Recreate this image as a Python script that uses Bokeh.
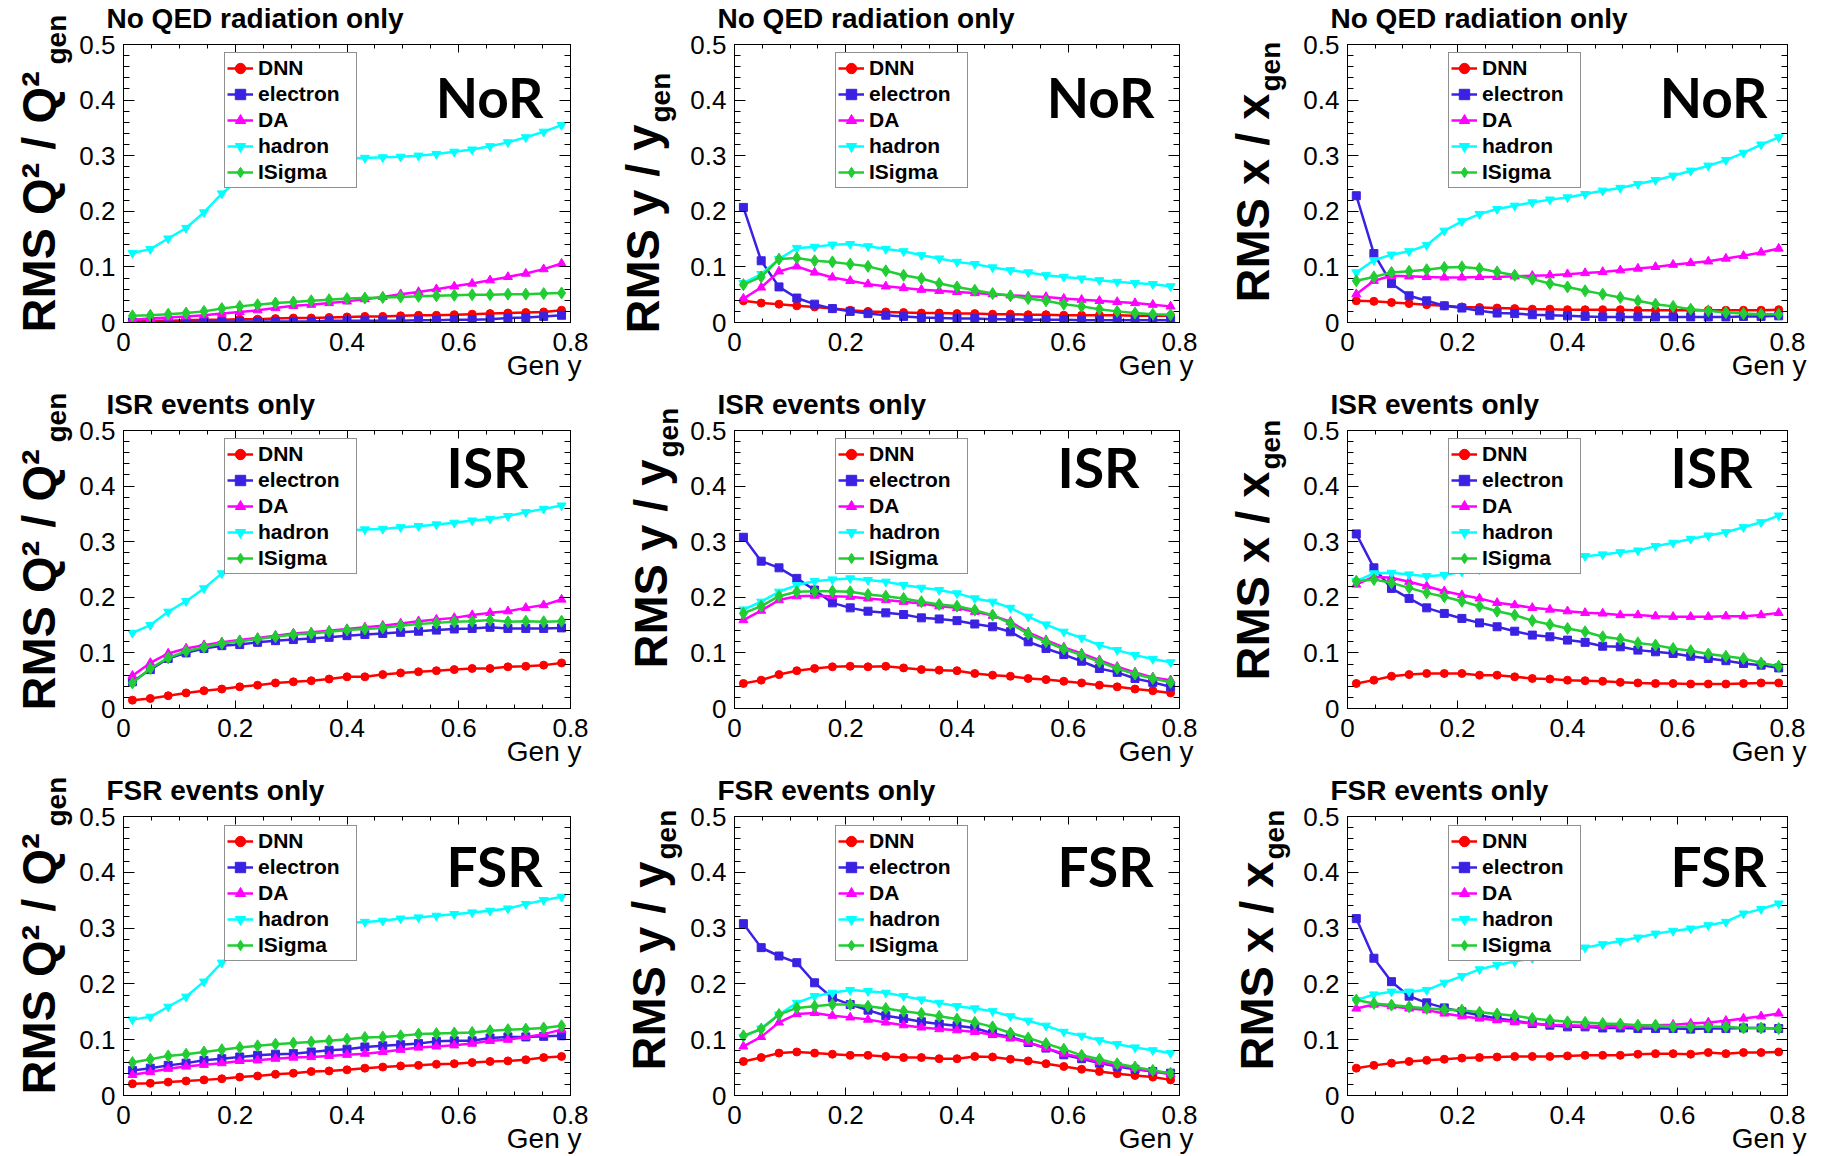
from bokeh.plotting import figure
from bokeh.models import (Range1d, FixedTicker, LinearAxis, Label, Legend, LegendItem,
                          GridBox, CustomLabelingPolicy)
from bokeh.embed import file_html
from bokeh.resources import INLINE

# ---------------- data ----------------
GEN_Y = [0.016, 0.048, 0.080, 0.112, 0.144, 0.176, 0.208, 0.240, 0.272, 0.304,
         0.336, 0.368, 0.400, 0.432, 0.464, 0.496, 0.528, 0.560, 0.592, 0.624,
         0.656, 0.688, 0.720, 0.752, 0.784]

SERIES = ["DNN", "electron", "DA", "hadron", "ISigma"]

# Q^2 resolution, no QED radiation
Q2_NOR_DNN = [0.002,0.003,0.003,0.004,0.005,0.005,0.006,0.006,0.007,0.008,0.008,0.009,0.010,0.011,0.011,0.012,0.013,0.013,0.014,0.015,0.016,0.017,0.018,0.019,0.022]
Q2_NOR_EL = [0.001,0.001,0.001,0.001,0.002,0.002,0.002,0.002,0.002,0.002,0.002,0.003,0.003,0.003,0.003,0.003,0.004,0.004,0.005,0.005,0.006,0.008,0.009,0.011,0.013]
Q2_NOR_DA = [0.005,0.007,0.009,0.011,0.013,0.016,0.019,0.022,0.026,0.030,0.032,0.035,0.038,0.042,0.046,0.051,0.055,0.060,0.065,0.070,0.076,0.082,0.088,0.096,0.106]
Q2_NOR_HAD = [0.125,0.132,0.151,0.170,0.198,0.232,0.258,0.274,0.284,0.289,0.292,0.294,0.295,0.296,0.297,0.298,0.300,0.303,0.307,0.311,0.317,0.324,0.333,0.343,0.355]
Q2_NOR_ISG = [0.012,0.013,0.015,0.017,0.020,0.025,0.029,0.032,0.035,0.037,0.039,0.041,0.043,0.044,0.045,0.046,0.047,0.048,0.049,0.050,0.050,0.051,0.051,0.052,0.053]

# y resolution, no QED radiation
Y_NOR_DNN = [0.039,0.035,0.033,0.030,0.028,0.025,0.022,0.020,0.019,0.018,0.017,0.017,0.016,0.016,0.015,0.015,0.014,0.014,0.013,0.013,0.013,0.013,0.012,0.012,0.012]
Y_NOR_EL = [0.207,0.111,0.064,0.044,0.033,0.025,0.020,0.016,0.013,0.011,0.009,0.008,0.007,0.007,0.006,0.006,0.005,0.005,0.005,0.004,0.004,0.004,0.004,0.004,0.004]
Y_NOR_DA = [0.043,0.063,0.092,0.101,0.090,0.081,0.075,0.069,0.065,0.062,0.059,0.057,0.055,0.053,0.051,0.049,0.047,0.046,0.043,0.041,0.039,0.037,0.035,0.032,0.029]
Y_NOR_HAD = [0.071,0.087,0.114,0.134,0.136,0.140,0.141,0.137,0.132,0.128,0.121,0.115,0.109,0.105,0.099,0.094,0.090,0.085,0.082,0.079,0.076,0.073,0.071,0.069,0.065]
Y_NOR_ISG = [0.068,0.082,0.114,0.116,0.111,0.109,0.105,0.101,0.093,0.085,0.079,0.070,0.064,0.058,0.052,0.048,0.043,0.039,0.033,0.029,0.024,0.020,0.017,0.015,0.014]

# x resolution, no QED radiation
X_NOR_DNN = [0.039,0.038,0.036,0.034,0.032,0.030,0.028,0.027,0.026,0.025,0.024,0.024,0.023,0.023,0.023,0.023,0.022,0.022,0.022,0.022,0.022,0.022,0.022,0.022,0.023]
X_NOR_EL = [0.228,0.124,0.070,0.048,0.039,0.030,0.026,0.021,0.017,0.016,0.014,0.013,0.012,0.011,0.010,0.010,0.010,0.010,0.010,0.010,0.010,0.010,0.011,0.011,0.012]
X_NOR_DA = [0.051,0.075,0.084,0.083,0.082,0.081,0.081,0.082,0.082,0.083,0.084,0.085,0.087,0.089,0.091,0.094,0.097,0.100,0.104,0.107,0.110,0.115,0.120,0.126,0.133]
X_NOR_HAD = [0.090,0.112,0.122,0.128,0.139,0.165,0.182,0.195,0.204,0.210,0.216,0.221,0.225,0.231,0.237,0.242,0.249,0.256,0.264,0.273,0.282,0.292,0.305,0.320,0.333]
X_NOR_ISG = [0.075,0.082,0.090,0.092,0.095,0.099,0.100,0.097,0.091,0.085,0.078,0.070,0.064,0.057,0.051,0.045,0.039,0.033,0.029,0.024,0.021,0.018,0.016,0.015,0.015]

# Q^2 resolution, ISR events
Q2_ISR_DNN = [0.015,0.018,0.023,0.028,0.032,0.035,0.039,0.042,0.046,0.048,0.050,0.053,0.057,0.057,0.061,0.064,0.066,0.068,0.070,0.072,0.072,0.075,0.076,0.078,0.082]
Q2_ISR_EL = [0.048,0.070,0.090,0.100,0.108,0.113,0.115,0.119,0.122,0.124,0.126,0.128,0.131,0.133,0.135,0.137,0.139,0.141,0.143,0.144,0.146,0.144,0.144,0.144,0.145]
Q2_ISR_DA = [0.059,0.082,0.099,0.108,0.114,0.119,0.123,0.127,0.131,0.135,0.137,0.140,0.143,0.146,0.149,0.153,0.157,0.160,0.163,0.168,0.172,0.175,0.181,0.186,0.196]
Q2_ISR_HAD = [0.136,0.150,0.174,0.193,0.216,0.243,0.268,0.287,0.300,0.308,0.313,0.317,0.320,0.322,0.323,0.326,0.328,0.331,0.334,0.338,0.341,0.346,0.353,0.359,0.365]
Q2_ISR_ISG = [0.046,0.072,0.091,0.103,0.110,0.117,0.121,0.125,0.129,0.133,0.135,0.138,0.141,0.143,0.145,0.149,0.152,0.154,0.156,0.157,0.159,0.156,0.157,0.156,0.157]

# y resolution, ISR events
Y_ISR_DNN = [0.045,0.051,0.061,0.068,0.072,0.075,0.076,0.075,0.076,0.073,0.070,0.069,0.068,0.063,0.060,0.058,0.054,0.052,0.049,0.046,0.042,0.039,0.035,0.032,0.028]
Y_ISR_EL = [0.308,0.265,0.253,0.234,0.213,0.190,0.181,0.175,0.172,0.169,0.163,0.161,0.158,0.152,0.147,0.138,0.120,0.108,0.097,0.085,0.072,0.065,0.054,0.047,0.039]
Y_ISR_DA = [0.159,0.176,0.195,0.202,0.203,0.202,0.201,0.198,0.195,0.192,0.189,0.184,0.181,0.174,0.167,0.156,0.137,0.123,0.110,0.099,0.087,0.075,0.065,0.056,0.051]
Y_ISR_HAD = [0.178,0.192,0.210,0.222,0.229,0.232,0.234,0.231,0.228,0.222,0.217,0.213,0.207,0.198,0.192,0.181,0.165,0.151,0.138,0.127,0.114,0.105,0.096,0.089,0.083]
Y_ISR_ISG = [0.171,0.184,0.202,0.210,0.211,0.211,0.210,0.205,0.202,0.198,0.192,0.187,0.184,0.177,0.168,0.153,0.134,0.120,0.107,0.096,0.084,0.072,0.062,0.054,0.047]

# x resolution, ISR events
X_ISR_DNN = [0.045,0.051,0.058,0.061,0.063,0.063,0.063,0.060,0.060,0.057,0.054,0.053,0.051,0.050,0.049,0.047,0.046,0.045,0.045,0.044,0.044,0.044,0.045,0.046,0.046]
X_ISR_EL = [0.314,0.253,0.216,0.198,0.181,0.171,0.162,0.154,0.147,0.139,0.132,0.129,0.123,0.119,0.112,0.111,0.105,0.102,0.099,0.094,0.090,0.086,0.081,0.078,0.073]
X_ISR_DA = [0.223,0.237,0.235,0.228,0.220,0.211,0.204,0.198,0.190,0.186,0.181,0.178,0.175,0.172,0.171,0.168,0.168,0.166,0.165,0.165,0.165,0.166,0.166,0.168,0.172]
X_ISR_HAD = [0.229,0.243,0.244,0.241,0.238,0.240,0.246,0.250,0.255,0.259,0.263,0.266,0.269,0.274,0.277,0.281,0.284,0.292,0.298,0.305,0.311,0.317,0.326,0.335,0.347]
X_ISR_ISG = [0.229,0.232,0.226,0.217,0.208,0.201,0.193,0.184,0.175,0.168,0.158,0.151,0.144,0.138,0.129,0.125,0.118,0.114,0.108,0.104,0.098,0.094,0.090,0.082,0.076]

# Q^2 resolution, FSR events
Q2_FSR_DNN = [0.021,0.022,0.024,0.026,0.028,0.030,0.033,0.035,0.038,0.040,0.043,0.044,0.046,0.049,0.051,0.053,0.054,0.056,0.057,0.059,0.061,0.062,0.064,0.068,0.070]
Q2_FSR_EL = [0.045,0.049,0.054,0.058,0.063,0.066,0.069,0.072,0.074,0.075,0.078,0.081,0.083,0.087,0.089,0.091,0.093,0.097,0.098,0.098,0.103,0.105,0.105,0.106,0.107]
Q2_FSR_DA = [0.037,0.042,0.048,0.052,0.055,0.058,0.062,0.063,0.066,0.068,0.069,0.071,0.073,0.075,0.078,0.082,0.086,0.088,0.090,0.093,0.098,0.100,0.105,0.110,0.118]
Q2_FSR_HAD = [0.136,0.141,0.159,0.177,0.204,0.238,0.262,0.279,0.290,0.297,0.302,0.306,0.309,0.311,0.313,0.317,0.319,0.322,0.325,0.328,0.331,0.335,0.343,0.350,0.356]
Q2_FSR_ISG = [0.059,0.065,0.071,0.074,0.078,0.082,0.086,0.089,0.092,0.094,0.096,0.098,0.101,0.104,0.105,0.107,0.110,0.111,0.112,0.113,0.116,0.118,0.119,0.121,0.125]

# y resolution, FSR events
Y_FSR_DNN = [0.061,0.068,0.076,0.078,0.076,0.074,0.072,0.072,0.070,0.068,0.068,0.066,0.066,0.070,0.069,0.065,0.062,0.057,0.052,0.047,0.043,0.039,0.036,0.033,0.028]
Y_FSR_EL = [0.308,0.265,0.250,0.238,0.202,0.175,0.163,0.153,0.143,0.138,0.132,0.128,0.125,0.121,0.111,0.105,0.095,0.085,0.073,0.066,0.058,0.052,0.047,0.043,0.040]
Y_FSR_DA = [0.088,0.105,0.131,0.146,0.148,0.143,0.140,0.136,0.131,0.126,0.122,0.119,0.117,0.114,0.109,0.103,0.095,0.085,0.075,0.068,0.060,0.054,0.049,0.043,0.038]
Y_FSR_HAD = [0.105,0.120,0.145,0.166,0.178,0.184,0.189,0.187,0.184,0.178,0.172,0.166,0.160,0.156,0.151,0.142,0.134,0.125,0.114,0.107,0.099,0.092,0.086,0.081,0.076]
Y_FSR_ISG = [0.107,0.119,0.145,0.157,0.160,0.163,0.163,0.160,0.156,0.151,0.147,0.142,0.137,0.131,0.123,0.112,0.103,0.093,0.083,0.072,0.065,0.057,0.051,0.045,0.040]

# x resolution, FSR events
X_FSR_DNN = [0.049,0.054,0.058,0.061,0.063,0.065,0.067,0.068,0.069,0.070,0.070,0.070,0.071,0.072,0.072,0.072,0.074,0.075,0.075,0.074,0.077,0.075,0.077,0.077,0.078]
X_FSR_EL = [0.317,0.246,0.204,0.178,0.166,0.157,0.150,0.144,0.138,0.134,0.129,0.126,0.123,0.123,0.121,0.121,0.120,0.120,0.120,0.119,0.120,0.120,0.121,0.121,0.120]
X_FSR_DA = [0.156,0.163,0.160,0.156,0.153,0.147,0.142,0.138,0.135,0.132,0.129,0.127,0.126,0.125,0.124,0.124,0.124,0.126,0.127,0.129,0.131,0.134,0.138,0.142,0.147]
X_FSR_HAD = [0.171,0.181,0.186,0.186,0.189,0.202,0.214,0.226,0.234,0.240,0.246,0.251,0.257,0.265,0.271,0.277,0.283,0.290,0.295,0.299,0.305,0.311,0.326,0.334,0.344]
X_FSR_ISG = [0.171,0.165,0.162,0.159,0.156,0.154,0.153,0.149,0.146,0.143,0.138,0.135,0.132,0.131,0.129,0.128,0.126,0.126,0.123,0.123,0.123,0.123,0.121,0.121,0.120]

X_TICKS = [0.0, 0.2, 0.4, 0.6, 0.8]
X_TICK_LABELS = ["0", "0.2", "0.4", "0.6", "0.8"]
X_MINOR = [0.0, 0.05, 0.1, 0.15, 0.2, 0.25, 0.3, 0.35, 0.4, 0.45, 0.5, 0.55, 0.6, 0.65, 0.7, 0.75, 0.8]
Y_TICKS = [0.0, 0.1, 0.2, 0.3, 0.4, 0.5]
Y_TICK_LABELS = ["0", "0.1", "0.2", "0.3", "0.4", "0.5"]
Y_MINOR = [0.0, 0.02, 0.04, 0.06, 0.08, 0.1, 0.12, 0.14, 0.16, 0.18, 0.2, 0.22, 0.24, 0.26,
           0.28, 0.3, 0.32, 0.34, 0.36, 0.38, 0.4, 0.42, 0.44, 0.46, 0.48, 0.5]

ROW_TITLES = ["No QED radiation only", "ISR events only", "FSR events only"]
ROW_TAGS = ["NoR", "ISR", "FSR"]
COL_YLABELS = ["RMS Q\u00b2 / Q\u00b2", "RMS y / y", "RMS x / x"]
YLABEL_SUB = "gen"
XLABEL = "Gen y"

PANEL_DATA = [
    [[Q2_NOR_DNN, Q2_NOR_EL, Q2_NOR_DA, Q2_NOR_HAD, Q2_NOR_ISG],
     [Y_NOR_DNN, Y_NOR_EL, Y_NOR_DA, Y_NOR_HAD, Y_NOR_ISG],
     [X_NOR_DNN, X_NOR_EL, X_NOR_DA, X_NOR_HAD, X_NOR_ISG]],
    [[Q2_ISR_DNN, Q2_ISR_EL, Q2_ISR_DA, Q2_ISR_HAD, Q2_ISR_ISG],
     [Y_ISR_DNN, Y_ISR_EL, Y_ISR_DA, Y_ISR_HAD, Y_ISR_ISG],
     [X_ISR_DNN, X_ISR_EL, X_ISR_DA, X_ISR_HAD, X_ISR_ISG]],
    [[Q2_FSR_DNN, Q2_FSR_EL, Q2_FSR_DA, Q2_FSR_HAD, Q2_FSR_ISG],
     [Y_FSR_DNN, Y_FSR_EL, Y_FSR_DA, Y_FSR_HAD, Y_FSR_ISG],
     [X_FSR_DNN, X_FSR_EL, X_FSR_DA, X_FSR_HAD, X_FSR_ISG]],
]

# ---------------- styles / layout ----------------
COLORS = ["#ff0000", "#3a22e3", "#ff00ff", "#00ffff", "#22cc33"]
MARKERS = ["circle", "square", "triangle", "inverted_triangle", "diamond"]
MSIZES = [8, 8, 9, 9, 12]

PAGE_W, PAGE_H = 1826, 1156
COL_W = [609, 609, 608]
ROW_H = [386, 386, 384]
FRAME_L = [123, 125, 129]
FRAME_W = [458, 459, 459]
FRAME_T = 44
FRAME_H = [278, 278, 279]

# y-axis title: baseline x and start y in figure pixels (top-left origin)
YLAB_X = [[54.5, 49.6, 50.5], [54.4, 57.4, 50.5], [54.4, 55.4, 54.4]]
YLAB_Y = [[332, 333, 302], [324, 282, 294], [322, 298, 298]]
SUB_OFFSET = [268, 211, 211]
TAG_X = [366, 364, 371]
TAG_BELOW_TOP = [52, 36, 49]
# the svg text is drawn about 0.35 em below the requested alphabetic baseline
SHIFT_28 = 9.7
SHIFT_47 = 16.3

FONT = "Liberation Sans"


def style_axis(ax, ticks, minor, labels, tmaj, tmin, show, standoff):
    ax.ticker = FixedTicker(ticks=ticks, minor_ticks=minor)
    ax.major_tick_in = tmaj
    ax.major_tick_out = 0
    ax.minor_tick_in = tmin
    ax.minor_tick_out = 0
    ax.axis_line_color = "black"
    ax.axis_line_width = 1
    ax.major_tick_line_color = "black"
    ax.minor_tick_line_color = "black"
    ax.major_tick_line_width = 1
    ax.minor_tick_line_width = 1
    ax.major_label_overrides = {t: s for t, s in zip(ticks, labels)}
    ax.major_label_text_font = FONT
    ax.major_label_text_font_size = "26px"
    ax.major_label_text_color = "black"
    ax.major_label_standoff = standoff
    if not show:
        ax.major_label_policy = CustomLabelingPolicy(
            code="for (const i of indices) { indices.unset(i) }\nreturn indices")


def make_panel(r, c):
    fl, fw, fh = FRAME_L[c], FRAME_W[c], FRAME_H[r]
    p = figure(width=COL_W[c], height=ROW_H[r],
               x_range=Range1d(0, 0.8), y_range=Range1d(0, 0.5),
               x_axis_type=None, y_axis_type=None,
               output_backend="svg", toolbar_location=None, tools="",
               min_border_left=fl, min_border_right=COL_W[c] - fl - fw,
               min_border_top=FRAME_T, min_border_bottom=ROW_H[r] - FRAME_T - fh)
    p.background_fill_color = "white"
    p.border_fill_color = "white"
    p.outline_line_color = "black"
    p.outline_line_width = 1

    bx = LinearAxis(); style_axis(bx, X_TICKS, X_MINOR, X_TICK_LABELS, 8, 4, True, 10)
    tx = LinearAxis(); style_axis(tx, X_TICKS, X_MINOR, X_TICK_LABELS, 8, 4, False, 0)
    ly = LinearAxis(); style_axis(ly, Y_TICKS, Y_MINOR, Y_TICK_LABELS, 11, 6, True, 8)
    ry = LinearAxis(); style_axis(ry, Y_TICKS, Y_MINOR, Y_TICK_LABELS, 11, 6, False, 0)
    p.add_layout(bx, "below")
    p.add_layout(tx, "above")
    p.add_layout(ly, "left")
    p.add_layout(ry, "right")

    items = []
    for k, name in enumerate(SERIES):
        vals = PANEL_DATA[r][c][k]
        lr = p.line(GEN_Y, vals, line_color=COLORS[k], line_width=2.5)
        sr = p.scatter(GEN_Y, vals, marker=MARKERS[k], size=MSIZES[k],
                       fill_color=COLORS[k], line_color=COLORS[k])
        items.append(LegendItem(label=name, renderers=[lr, sr]))

    leg = Legend(items=items, location=(101, 134), orientation="vertical",
                 margin=0, padding=2, spacing=0,
                 glyph_width=26, glyph_height=26, label_height=26, label_width=96,
                 label_standoff=5,
                 label_text_font=FONT, label_text_font_style="bold",
                 label_text_font_size="21px", label_text_color="black",
                 border_line_color="#222222", border_line_width=1.5,
                 background_fill_color="white", background_fill_alpha=1.0)
    p.add_layout(leg)

    # big tag inside the frame
    p.add_layout(Label(x=TAG_X[r], y=fh - TAG_BELOW_TOP[r], x_units="screen", y_units="screen",
                       text=ROW_TAGS[r], text_align="center", text_baseline="alphabetic",
                       text_font="Lato", text_font_style="bold",
                       text_font_size="55px", text_color="black"))
    return p


# transparent text layer covering the whole page, for the texts that sit
# outside the plot frames (titles, axis titles)
ov = figure(width=PAGE_W, height=PAGE_H, x_range=Range1d(0, PAGE_W), y_range=Range1d(0, PAGE_H),
            x_axis_type=None, y_axis_type=None, output_backend="svg",
            toolbar_location=None, tools="", min_border=0)
if "frame_align" in ov.properties():
    ov.frame_align = False
ov.background_fill_alpha = 0
ov.border_fill_alpha = 0
ov.outline_line_color = None


def add_outer_texts(r, c):
    X0 = sum(COL_W[:c])
    Y0 = sum(ROW_H[:r])
    fl = X0 + FRAME_L[c]
    ft = Y0 + FRAME_T
    fb = ft + FRAME_H[r]
    fr = fl + FRAME_W[c]
    # panel title
    ov.add_layout(Label(x=fl - 17, y=PAGE_H - (ft - 16 - SHIFT_28), text=ROW_TITLES[r],
                        text_align="left", text_baseline="alphabetic",
                        text_font=FONT, text_font_style="bold",
                        text_font_size="28px", text_color="black"))
    # x-axis title
    ov.add_layout(Label(x=fr, y=PAGE_H - (fb + 53 - SHIFT_28), text=XLABEL,
                        text_align="right", text_baseline="alphabetic",
                        text_font=FONT, text_font_size="28px", text_color="black"))
    # y-axis title and subscript
    bx = X0 + YLAB_X[r][c]
    sy = Y0 + YLAB_Y[r][c]
    ov.add_layout(Label(x=bx - SHIFT_47, y=PAGE_H - sy, text=COL_YLABELS[c],
                        angle=90, angle_units="deg",
                        text_align="left", text_baseline="alphabetic",
                        text_font=FONT, text_font_style="bold",
                        text_font_size="47px", text_color="black"))
    ov.add_layout(Label(x=bx + 11 - SHIFT_28, y=PAGE_H - (sy - SUB_OFFSET[c]), text=YLABEL_SUB,
                        angle=90, angle_units="deg",
                        text_align="left", text_baseline="alphabetic",
                        text_font=FONT, text_font_style="bold",
                        text_font_size="28px", text_color="black"))


children = []
for r in range(3):
    for c in range(3):
        children.append((make_panel(r, c), r, c))
        add_outer_texts(r, c)
children.append((ov, 0, 0, 3, 3))

layout = GridBox(children=children, spacing=0)

open("out.html", "w").write(file_html(layout, INLINE))
